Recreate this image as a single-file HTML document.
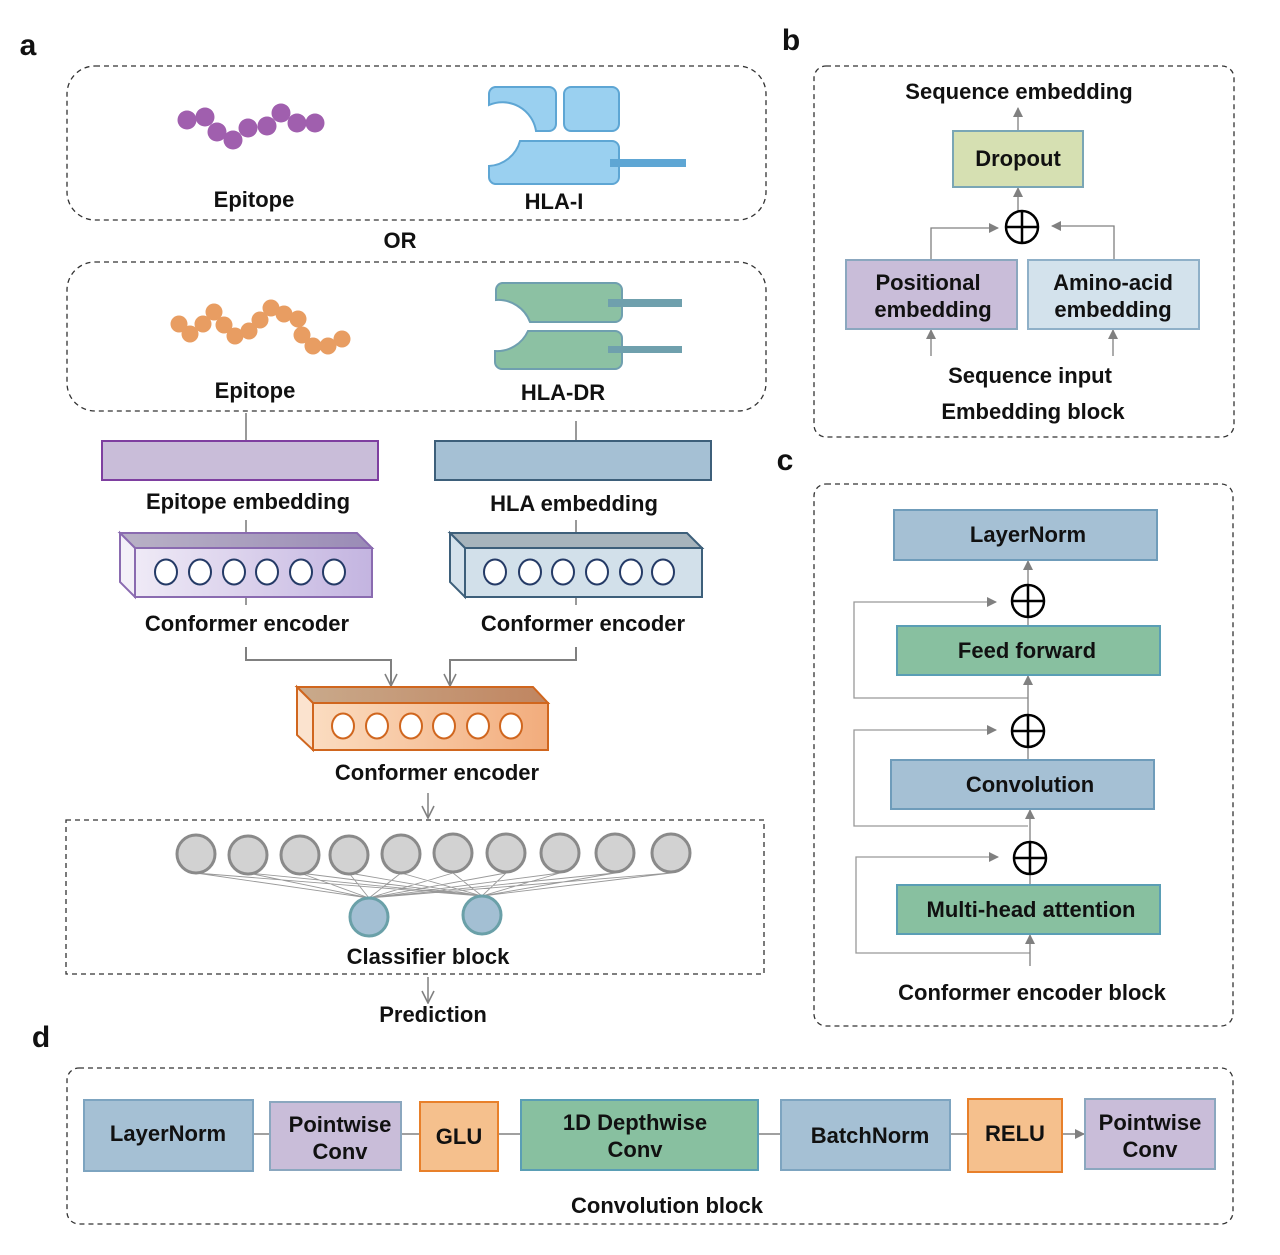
<!DOCTYPE html>
<html><head><meta charset="utf-8"><style>
html,body{margin:0;padding:0;background:#fff;}
svg{display:block;}
text{font-family:"Liberation Sans",Arial,sans-serif;font-weight:bold;fill:#111;}
</style></head><body>
<svg width="1280" height="1255" viewBox="0 0 1280 1255" xmlns="http://www.w3.org/2000/svg">
<defs>
<marker id="ta" markerWidth="10" markerHeight="10" refX="9" refY="5" orient="auto" markerUnits="userSpaceOnUse"><path d="M0,0 L10,5 L0,10 z" fill="#808080"/></marker>
<marker id="va" markerWidth="14" markerHeight="14" refX="13" refY="7" orient="auto" markerUnits="userSpaceOnUse"><path d="M1,1 L13,7 L1,13" fill="none" stroke="#808080" stroke-width="1.6"/></marker>
<linearGradient id="gp" x1="0" x2="1"><stop offset="0" stop-color="#efeaf6"/><stop offset="1" stop-color="#c3b4e0"/></linearGradient>
<linearGradient id="gpt" x1="0" x2="1"><stop offset="0" stop-color="#b9b2c6"/><stop offset="1" stop-color="#9a8bb6"/></linearGradient>
<linearGradient id="go" x1="0" x2="1"><stop offset="0" stop-color="#fbdcc0"/><stop offset="1" stop-color="#f2ac7c"/></linearGradient>
<linearGradient id="got" x1="0" x2="1"><stop offset="0" stop-color="#c9aa8c"/><stop offset="1" stop-color="#c08560"/></linearGradient>
</defs>
<g font-size="22" text-anchor="middle">
<text x="28" y="55" font-size="30">a</text>
<text x="791" y="50" font-size="30">b</text>
<text x="785" y="470" font-size="30">c</text>
<text x="41" y="1047" font-size="30">d</text>

<rect x="67" y="66" width="699" height="154" rx="28" fill="none" stroke="#333" stroke-width="1.3" stroke-dasharray="5,4"/>
<rect x="67" y="262" width="699" height="149" rx="28" fill="none" stroke="#333" stroke-width="1.3" stroke-dasharray="5,4"/>
<g fill="#a05fae">
<circle cx="187" cy="120" r="9.5"/><circle cx="205" cy="117" r="9.5"/><circle cx="217" cy="132" r="9.5"/><circle cx="233" cy="140" r="9.5"/><circle cx="248" cy="128" r="9.5"/><circle cx="267" cy="126" r="9.5"/><circle cx="281" cy="113" r="9.5"/><circle cx="297" cy="123" r="9.5"/><circle cx="315" cy="123" r="9.5"/>
</g>
<g fill="#e89d62">
<circle cx="179" cy="324" r="8.5"/><circle cx="190" cy="334" r="8.5"/><circle cx="203" cy="324" r="8.5"/><circle cx="214" cy="312" r="8.5"/><circle cx="224" cy="325" r="8.5"/><circle cx="235" cy="336" r="8.5"/><circle cx="249" cy="331" r="8.5"/><circle cx="260" cy="320" r="8.5"/><circle cx="271" cy="308" r="8.5"/><circle cx="284" cy="314" r="8.5"/><circle cx="298" cy="319" r="8.5"/><circle cx="302" cy="335" r="8.5"/><circle cx="313" cy="346" r="8.5"/><circle cx="328" cy="346" r="8.5"/><circle cx="342" cy="339" r="8.5"/>
</g>
<g fill="#9ad0f0" stroke="#5ea6d4" stroke-width="2">
<path d="M495,87 H549 a7,7 0 0 1 7,7 V124 a7,7 0 0 1 -7,7 H536 A34,34 0 0 0 489,105 V94 a7,7 0 0 1 6,-7 z"/>
<rect x="564" y="87" width="55" height="44" rx="7"/>
<path d="M520,141 H612 a7,7 0 0 1 7,7 V177 a7,7 0 0 1 -7,7 H495 a7,7 0 0 1 -6,-7 V166 A34,34 0 0 0 520,141 z"/>
</g>
<rect x="610" y="159" width="76" height="8" fill="#5ea6d4"/>
<g fill="#8cc1a3" stroke="#6f9faf" stroke-width="2">
<path d="M502,283 H615 a7,7 0 0 1 7,7 V315 a7,7 0 0 1 -7,7 H530 A34,34 0 0 0 496,300 V290 a7,7 0 0 1 6,-7 z"/>
<path d="M528,331 H615 a7,7 0 0 1 7,7 V362 a7,7 0 0 1 -7,7 H502 a7,7 0 0 1 -7,-7 V351 A34,34 0 0 0 528,331 z"/>
</g>
<rect x="608" y="299" width="74" height="8" fill="#6fa0ad"/>
<rect x="608" y="346" width="74" height="7" fill="#6fa0ad"/>
<text x="254" y="207">Epitope</text>
<text x="554" y="209">HLA-I</text>
<text x="400" y="248">OR</text>
<text x="255" y="398">Epitope</text>
<text x="563" y="400">HLA-DR</text>

<g stroke="#777" stroke-width="1.5" fill="none">
<line x1="246" y1="413" x2="246" y2="441"/><line x1="576" y1="421" x2="576" y2="441"/>
<line x1="246" y1="520" x2="246" y2="533"/><line x1="576" y1="520" x2="576" y2="533"/>
<line x1="246" y1="597" x2="246" y2="605"/><line x1="576" y1="597" x2="576" y2="605"/>
</g>
<rect x="102" y="441" width="276" height="39" fill="#c9bdd9" stroke="#7e3fa0" stroke-width="2"/>
<rect x="435" y="441" width="276" height="39" fill="#a5c0d4" stroke="#3d5f7a" stroke-width="2"/>
<text x="248" y="509">Epitope embedding</text>
<text x="574" y="511">HLA embedding</text>

<g stroke="#8a6bb0" stroke-width="2">
<path d="M120,533 H357 L372,548 H135 Z" fill="url(#gpt)"/>
<path d="M120,533 L135,548 V597 L120,582 Z" fill="#f3f0f8"/>
<rect x="135" y="548" width="237" height="49" fill="url(#gp)"/>
</g>
<g fill="#fff" stroke="#243a66" stroke-width="2">
<ellipse cx="166" cy="572" rx="11" ry="12.5"/><ellipse cx="200" cy="572" rx="11" ry="12.5"/><ellipse cx="234" cy="572" rx="11" ry="12.5"/><ellipse cx="267" cy="572" rx="11" ry="12.5"/><ellipse cx="301" cy="572" rx="11" ry="12.5"/><ellipse cx="334" cy="572" rx="11" ry="12.5"/>
</g>
<g stroke="#3d5f7a" stroke-width="2">
<path d="M450,533 H687 L702,548 H465 Z" fill="#a7b4bc"/>
<path d="M450,533 L465,548 V597 L450,582 Z" fill="#d5e2ec"/>
<rect x="465" y="548" width="237" height="49" fill="#d2e0ea"/>
</g>
<g fill="#fff" stroke="#243a66" stroke-width="2">
<ellipse cx="495" cy="572" rx="11" ry="12.5"/><ellipse cx="530" cy="572" rx="11" ry="12.5"/><ellipse cx="563" cy="572" rx="11" ry="12.5"/><ellipse cx="597" cy="572" rx="11" ry="12.5"/><ellipse cx="631" cy="572" rx="11" ry="12.5"/><ellipse cx="663" cy="572" rx="11" ry="12.5"/>
</g>
<text x="247" y="631">Conformer encoder</text>
<text x="583" y="631">Conformer encoder</text>
<g stroke="#808080" stroke-width="2" fill="none">
<polyline points="246,647 246,660 391,660 391,686" marker-end="url(#va)"/>
<polyline points="576,647 576,660 450,660 450,686" marker-end="url(#va)"/>
<line x1="428" y1="793" x2="428" y2="818" stroke-width="1.5" marker-end="url(#va)"/>
<line x1="428" y1="977" x2="428" y2="1003" stroke-width="1.5" marker-end="url(#va)"/>
</g>
<g stroke="#d0661e" stroke-width="2">
<path d="M297,687 H533 L548,703 H313 Z" fill="url(#got)"/>
<path d="M297,687 L313,703 V750 L297,735 Z" fill="#fbe3cf"/>
<rect x="313" y="703" width="235" height="47" fill="url(#go)"/>
</g>
<g fill="#fff" stroke="#d0661e" stroke-width="2">
<ellipse cx="343" cy="726" rx="11" ry="12.5"/><ellipse cx="377" cy="726" rx="11" ry="12.5"/><ellipse cx="411" cy="726" rx="11" ry="12.5"/><ellipse cx="444" cy="726" rx="11" ry="12.5"/><ellipse cx="478" cy="726" rx="11" ry="12.5"/><ellipse cx="511" cy="726" rx="11" ry="12.5"/>
</g>
<text x="437" y="780">Conformer encoder</text>

<rect x="66" y="820" width="698" height="154" fill="none" stroke="#333" stroke-width="1.3" stroke-dasharray="5,4"/>
<g stroke="#999" stroke-width="0.9">
<path d="M196,873 L369,898 M196,873 L482,896 M248,873 L369,898 M248,873 L482,896 M300,873 L369,898 M300,873 L482,896 M349,873 L369,898 M349,873 L482,896 M401,873 L369,898 M401,873 L482,896 M453,873 L369,898 M453,873 L482,896 M506,873 L369,898 M506,873 L482,896 M560,873 L369,898 M560,873 L482,896 M615,873 L369,898 M615,873 L482,896 M671,873 L369,898 M671,873 L482,896"/>
</g>
<g fill="#d2d2d2" stroke="#8a8a8a" stroke-width="3">
<circle cx="196" cy="854" r="19"/><circle cx="248" cy="855" r="19"/><circle cx="300" cy="855" r="19"/><circle cx="349" cy="855" r="19"/><circle cx="401" cy="854" r="19"/><circle cx="453" cy="853" r="19"/><circle cx="506" cy="853" r="19"/><circle cx="560" cy="853" r="19"/><circle cx="615" cy="853" r="19"/><circle cx="671" cy="853" r="19"/>
</g>
<g fill="#a3bfd3" stroke="#6aa0a8" stroke-width="3">
<circle cx="369" cy="917" r="19"/><circle cx="482" cy="915" r="19"/>
</g>
<text x="428" y="964">Classifier block</text>
<text x="433" y="1022">Prediction</text>

<rect x="814" y="66" width="420" height="371" rx="12" fill="none" stroke="#333" stroke-width="1.3" stroke-dasharray="5,4"/>
<text x="1019" y="99">Sequence embedding</text>
<g stroke="#808080" stroke-width="1.3" fill="none">
<line x1="1018" y1="131" x2="1018" y2="108" marker-end="url(#ta)"/>
<line x1="1018" y1="211" x2="1018" y2="188" marker-end="url(#ta)"/>
<polyline points="931,260 931,228 998,228" marker-end="url(#ta)"/>
<polyline points="1114,260 1114,226 1052,226" marker-end="url(#ta)"/>
<line x1="931" y1="356" x2="931" y2="330" marker-end="url(#ta)"/>
<line x1="1113" y1="356" x2="1113" y2="330" marker-end="url(#ta)"/>
</g>
<rect x="953" y="131" width="130" height="56" fill="#d6e0b2" stroke="#7aa6b5" stroke-width="2"/>
<text x="1018" y="166">Dropout</text>
<g stroke="#000" stroke-width="2.5" fill="none"><circle cx="1022" cy="227" r="16"/><path d="M1006,227 H1038 M1022,211 V243"/></g>
<rect x="846" y="260" width="171" height="69" fill="#c9bdd9" stroke="#8ba7bf" stroke-width="2"/>
<rect x="1028" y="260" width="171" height="69" fill="#d3e2ec" stroke="#8fb0c8" stroke-width="2"/>
<text x="928" y="290">Positional</text><text x="933" y="317">embedding</text>
<text x="1113" y="290">Amino-acid</text><text x="1113" y="317">embedding</text>
<text x="1030" y="383">Sequence input</text>
<text x="1033" y="419">Embedding block</text>

<rect x="814" y="484" width="419" height="542" rx="12" fill="none" stroke="#333" stroke-width="1.3" stroke-dasharray="5,4"/>
<g stroke="#999" stroke-width="1.3" fill="none">
<polyline points="1028,698 854,698 854,602 996,602" marker-end="url(#ta)"/>
<polyline points="1028,826 854,826 854,730 996,730" marker-end="url(#ta)"/>
<polyline points="1030,953 856,953 856,857 998,857" marker-end="url(#ta)"/>
</g>
<g stroke="#808080" stroke-width="1.3" fill="none">
<line x1="1028" y1="585" x2="1028" y2="561" marker-end="url(#ta)"/>
<line x1="1028" y1="715" x2="1028" y2="676" marker-end="url(#ta)"/>
<line x1="1028" y1="760" x2="1028" y2="747"/>
<line x1="1028" y1="626" x2="1028" y2="617"/>
<line x1="1030" y1="873" x2="1030" y2="810" marker-end="url(#ta)"/>
<line x1="1030" y1="885" x2="1030" y2="874"/>
<line x1="1030" y1="966" x2="1030" y2="935" marker-end="url(#ta)"/>
</g>
<rect x="894" y="510" width="263" height="50" fill="#a5c0d4" stroke="#6f9cba" stroke-width="2"/>
<text x="1028" y="542">LayerNorm</text>
<rect x="897" y="626" width="263" height="49" fill="#88c0a0" stroke="#5a9eb5" stroke-width="2"/>
<text x="1027" y="658">Feed forward</text>
<rect x="891" y="760" width="263" height="49" fill="#a5c0d4" stroke="#6f9cba" stroke-width="2"/>
<text x="1030" y="792">Convolution</text>
<rect x="897" y="885" width="263" height="49" fill="#88c0a0" stroke="#5a9eb5" stroke-width="2"/>
<text x="1031" y="917">Multi-head attention</text>
<g stroke="#000" stroke-width="2.5" fill="none">
<circle cx="1028" cy="601" r="16"/><path d="M1012,601 H1044 M1028,585 V617"/>
<circle cx="1028" cy="731" r="16"/><path d="M1012,731 H1044 M1028,715 V747"/>
<circle cx="1030" cy="858" r="16"/><path d="M1014,858 H1046 M1030,842 V874"/>
</g>
<text x="1032" y="1000">Conformer encoder block</text>

<rect x="67" y="1068" width="1166" height="156" rx="12" fill="none" stroke="#333" stroke-width="1.3" stroke-dasharray="5,4"/>
<g stroke="#808080" stroke-width="1.5">
<line x1="253" y1="1134" x2="270" y2="1134"/><line x1="401" y1="1134" x2="420" y2="1134"/><line x1="498" y1="1134" x2="521" y2="1134"/><line x1="758" y1="1134" x2="781" y2="1134"/><line x1="950" y1="1134" x2="968" y2="1134"/>
<line x1="1062" y1="1134" x2="1084" y2="1134" marker-end="url(#ta)"/>
</g>
<rect x="84" y="1100" width="169" height="71" fill="#a5c0d4" stroke="#7da4c0" stroke-width="2"/>
<rect x="270" y="1102" width="131" height="68" fill="#c9bdd9" stroke="#8ba7bf" stroke-width="2"/>
<rect x="420" y="1102" width="78" height="69" fill="#f5c08d" stroke="#e8802a" stroke-width="2"/>
<rect x="521" y="1100" width="237" height="70" fill="#88c0a0" stroke="#5a9eb5" stroke-width="2"/>
<rect x="781" y="1100" width="169" height="70" fill="#a5c0d4" stroke="#7da4c0" stroke-width="2"/>
<rect x="968" y="1099" width="94" height="73" fill="#f5c08d" stroke="#e8802a" stroke-width="2"/>
<rect x="1085" y="1099" width="130" height="70" fill="#c9bdd9" stroke="#8ba7bf" stroke-width="2"/>
<text x="168" y="1141">LayerNorm</text>
<text x="340" y="1132">Pointwise</text><text x="340" y="1159">Conv</text>
<text x="459" y="1144">GLU</text>
<text x="635" y="1130">1D Depthwise</text><text x="635" y="1157">Conv</text>
<text x="870" y="1143">BatchNorm</text>
<text x="1015" y="1141">RELU</text>
<text x="1150" y="1130">Pointwise</text><text x="1150" y="1157">Conv</text>
<text x="667" y="1213">Convolution block</text>
</g>
</svg>
</body></html>
